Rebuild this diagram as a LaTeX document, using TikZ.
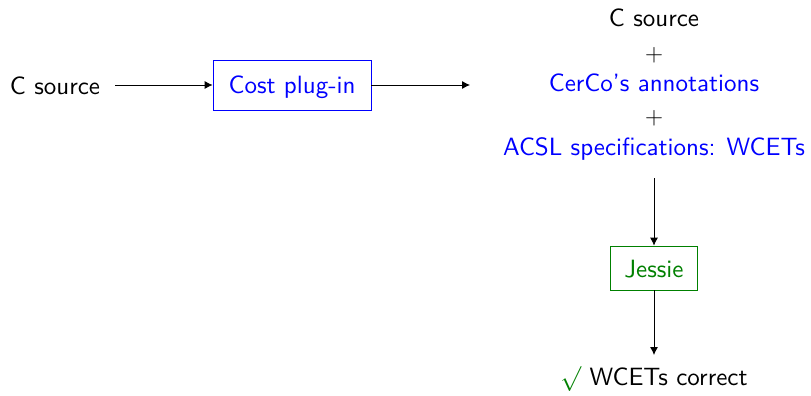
\RequirePackage{fix-cm}
\documentclass[tikz,border=0pt]{standalone}
\usepackage{fontspec}
\setsansfont{lmsans10-regular.otf}
\usetikzlibrary{arrows.meta}
\definecolor{jgreen}{RGB}{0,128,0}
\begin{document}
\begin{tikzpicture}[x=1pt,y=-1pt,
  font=\sffamily\fontsize{25}{30}\selectfont,
  txt/.style={inner sep=0pt, anchor=base},
  plusnode/.style={inner sep=0pt, anchor=center},
  bluebox/.style={draw=blue, text=blue, line width=0.8pt, inner sep=0pt, minimum width=158pt, minimum height=50pt},
  greenbox/.style={draw=jgreen, text=jgreen, line width=0.8pt, inner sep=0pt, minimum width=87pt, minimum height=44pt},
  arr/.style={-{Latex[length=8pt,width=8pt]}, line width=0.8pt}]
\useasboundingbox (0,0) rectangle (811,396);
% left
\node[txt] (src) at (55,94) {C source};
\node[bluebox] (plug) at (292,85) {};
\node[txt, text=blue] (plugtxt) at (292,93) {Cost plug-in};
\coordinate (mid) at (470,85);
% right stack
\node[txt] (src2) at (654,27) {C source};
\node[plusnode] (plus1) at (654,55) {$+$};
\node[txt, text=blue] (cerco) at (654,92) {CerCo's annotations};
\node[plusnode] (plus2) at (654,118) {$+$};
\node[txt, text=blue] (acsl) at (654,155) {ACSL specifications: WCETs};
\coordinate (acslb) at (654,178);
\node[greenbox] (jessie) at (654,268) {};
\node[txt, text=jgreen] (jessietxt) at (654,277) {Jessie};
\coordinate (resn) at (654,355);
\node[txt] (res) at (654,385) {\textcolor{jgreen}{$\surd$} WCETs correct};
% connectors
\draw[arr] ([xshift=15pt]src.east |- plug.west) -- (plug.west);
\draw[arr] (plug.east) -- (mid);
\draw[arr] (acslb) -- (jessie.north);
\draw[arr] (jessie.south) -- (resn);
\end{tikzpicture}
\end{document}
